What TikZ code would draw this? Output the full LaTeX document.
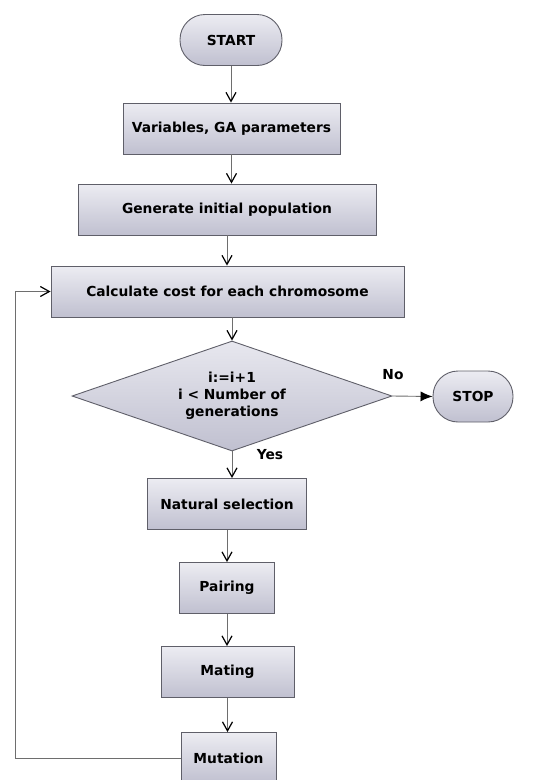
\documentclass[tikz,border=0pt]{standalone}
\usepackage{fontspec}
\setmainfont{DejaVu Sans}
\usetikzlibrary{shapes.geometric,arrows.meta}
\definecolor{boxtop}{RGB}{236,236,242}
\definecolor{boxbot}{RGB}{192,192,208}
\definecolor{boxline}{RGB}{95,95,105}
\definecolor{flowline}{RGB}{110,110,110}
\tikzset{
    every node/.style={font=\bfseries\fontsize{13.8}{17}\selectfont, align=center},
    stepbox/.style={rectangle, draw=boxline, line width=0.9pt, top color=boxtop, bottom color=boxbot, minimum height=51pt, inner sep=0pt},
    terminal/.style={rectangle, rounded corners=25pt, draw=boxline, line width=0.9pt, top color=boxtop, bottom color=boxbot, minimum width=102pt, minimum height=51pt, inner sep=0pt},
    decision/.style={diamond, draw=boxline, line width=0.9pt, top color=boxtop!90!boxbot, bottom color=boxbot, minimum width=320pt, minimum height=110pt, inner sep=0pt},
    flow/.style={draw=flowline, line width=0.9pt, -{Straight Barb[length=9pt,width=10pt,line width=1.2pt,black]}},
    stopflow/.style={draw=flowline, line width=0.9pt, -{Latex[length=12pt,width=10pt,black]}},
}
\begin{document}
\begin{tikzpicture}[x=1pt, y=-1pt]
    \useasboundingbox (0,0) rectangle (534,780);
    \node[terminal] (start) at (231,40) {START};
    \node[stepbox, minimum width=217pt] (vars) at (231.5,128.5) {Variables, GA parameters};
    \node[stepbox, minimum width=298pt] (init) at (227,209.5) {Generate initial population};
    \node[stepbox, minimum width=353pt] (cost) at (227.5,291.5) {Calculate cost for each chromosome};
    \node[decision, label={[align=center]center:i:=i+1\\i < Number of\\generations}] (test) at (232,396) {};
    \node[terminal, minimum width=80pt] (stop) at (473,396.5) {STOP};
    \node[stepbox, minimum width=159pt] (select) at (227,504) {Natural selection};
    \node[stepbox, minimum width=95pt] (pair) at (227,588) {Pairing};
    \node[stepbox, minimum width=133pt] (mate) at (227.5,672) {Mating};
    \node[stepbox, minimum width=95pt] (mutate) at (228.5,758) {Mutation};
    \node (no) at (393,375) {No};
    \node (yes) at (270,455) {Yes};
    \coordinate (back) at (15,758);
    \path[flow] (start) -- (start |- vars.north);
    \path[flow] (vars.south) -- (vars.south |- init.north);
    \path[flow] (init.south) -- (init.south |- cost.north);
    \path[flow] (cost.south -| test.north) -- (test.north);
    \path[stopflow] (test.east) -- (stop.west);
    \path[flow] (test.south) -- (test.south |- select.north);
    \path[flow] (select) -- (pair);
    \path[flow] (pair.south) -- (pair.south |- mate.north);
    \path[flow] (mate.south) -- (mate.south |- mutate.north);
    \path[flow] (mutate.west) -- (back) |- (cost.west);
\end{tikzpicture}
\end{document}
